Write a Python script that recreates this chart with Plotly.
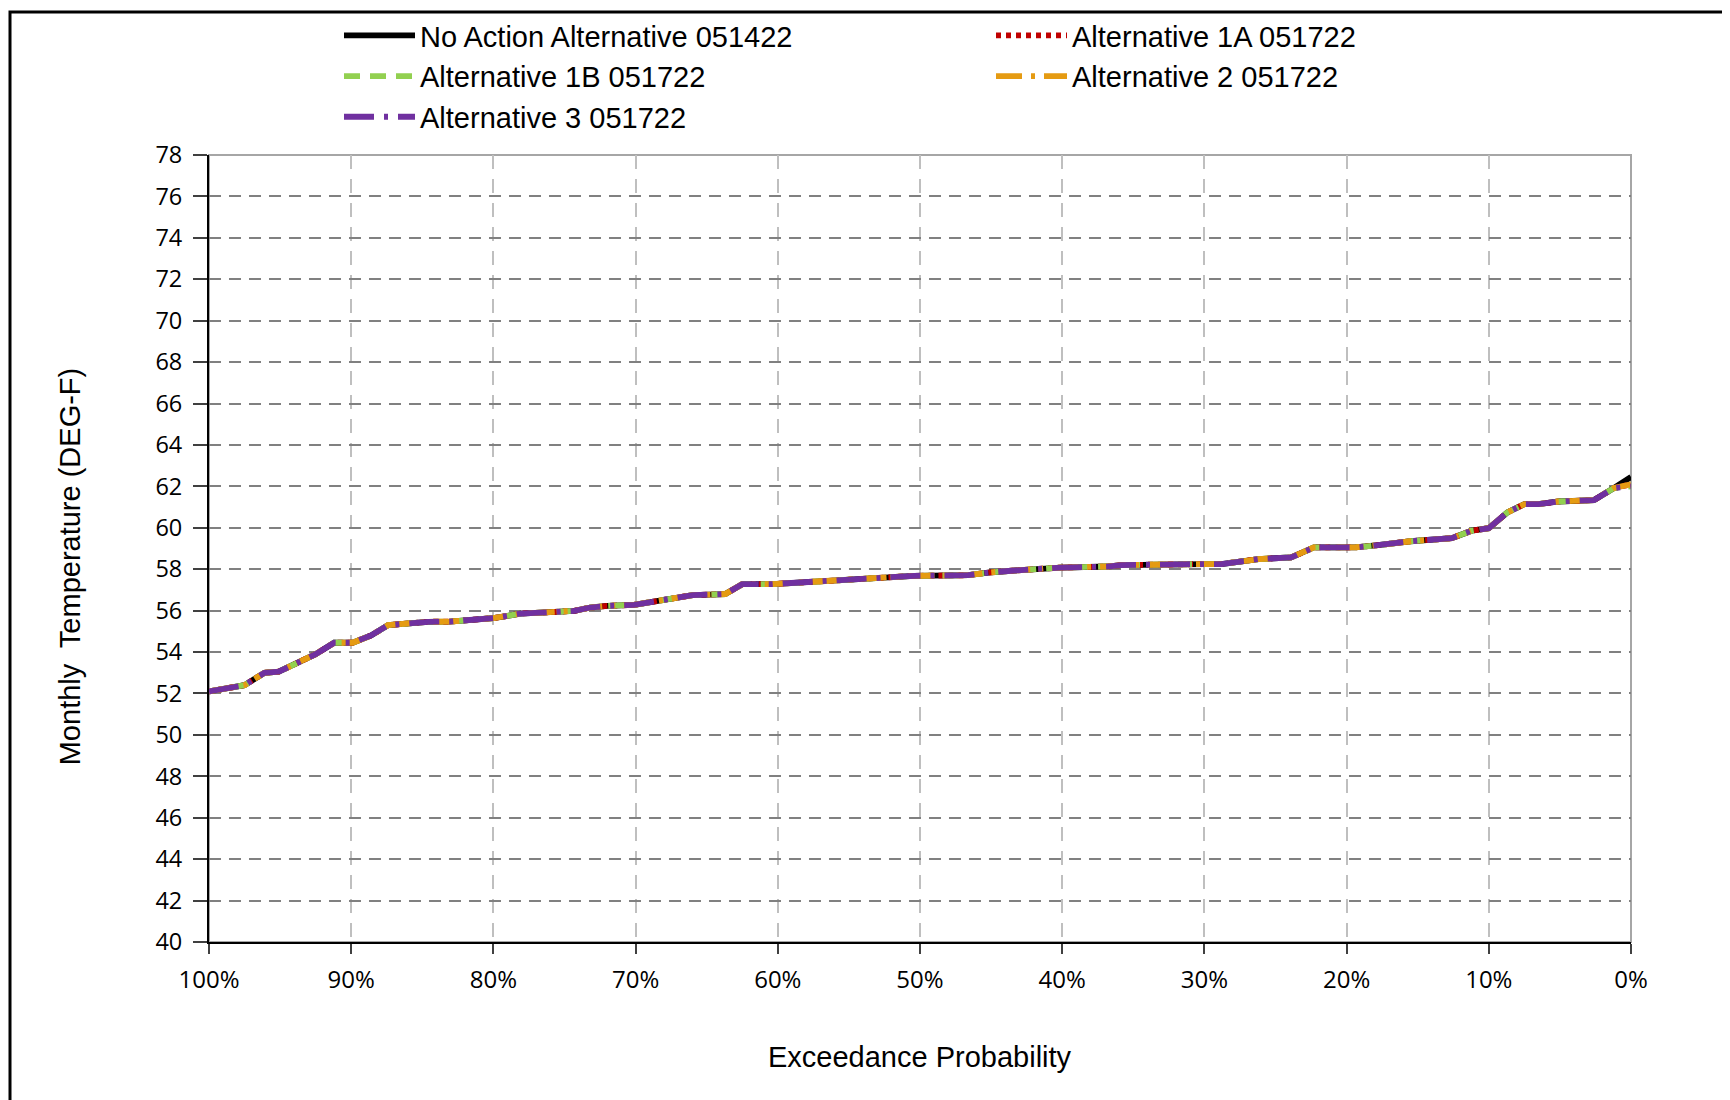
import plotly.graph_objects as go

# Exceedance probability (%) and monthly temperature (DEG-F)
exceedance = [100, 97.5, 96.1, 95.1, 92.5, 91.2, 89.9, 88.6, 87.4, 86.0, 84.6, 83.1,
              81.4, 80.0, 79.0, 78.1, 76.7, 74.3, 73.2, 72.0, 70.1, 68.5, 66.8, 66.0,
              63.7, 62.5, 60.4, 57.4, 55.1, 52.8, 50.4, 46.6, 45.2, 42.9, 40.1, 36.8,
              35.9, 30.0, 28.8, 26.2, 23.9, 22.3, 19.4, 17.8, 15.5, 12.6, 11.2, 10.0,
              8.7, 7.5, 6.5, 5.1, 2.6, 1.2, 0.0]

base = [52.10, 52.40, 53.00, 53.05, 53.90, 54.45, 54.45, 54.80, 55.30, 55.40, 55.46, 55.47,
        55.54, 55.64, 55.75, 55.86, 55.90, 55.99, 56.15, 56.23, 56.28, 56.44, 56.63, 56.75,
        56.80, 57.28, 57.28, 57.41, 57.52, 57.57, 57.68, 57.71, 57.84, 57.96, 58.08, 58.13,
        58.20, 58.25, 58.25, 58.49, 58.57, 59.05, 59.05, 59.16, 59.35, 59.50, 59.86, 59.98,
        60.74, 61.14, 61.14, 61.27, 61.34, 61.92]

no_action = base + [62.45]
alt_1a = base + [62.10]
alt_1b = base + [62.00]
alt_2 = base + [62.10]
alt_3 = base + [62.00]

series_names = ["No Action Alternative 051422", "Alternative 1A 051722",
                "Alternative 1B 051722", "Alternative 2 051722", "Alternative 3 051722"]
series_values = [no_action, alt_1a, alt_1b, alt_2, alt_3]
series_colors = ["#000000", "#C00000", "#92D050", "#E59B12", "#7030A0"]
series_dash = ["solid", "5px,5px", "16px,10px", "26px,9px,4px,9px", "30px,10px,4px,10px"]

x_ticks = [100, 90, 80, 70, 60, 50, 40, 30, 20, 10, 0]
x_ticktext = [f"{v}%" for v in x_ticks]
y_ticks = list(range(40, 79, 2))

fig = go.Figure()
for name, vals, col, dash in zip(series_names, series_values, series_colors, series_dash):
    fig.add_trace(go.Scatter(
        x=exceedance, y=vals, mode="lines", name=name,
        line=dict(color=col, width=5.8, dash=dash),
    ))

W, H = 1730, 1100
L, R, T, B = 201, 107, 147, 166
PW, PH = W - L - R, H - T - B

fig.update_layout(
    width=W, height=H,
    margin=dict(l=L, r=R, t=T, b=B, autoexpand=False),
    paper_bgcolor="white", plot_bgcolor="white",
    showlegend=True,
    legend=dict(
        orientation="h", x=(331 - L) / PW, xanchor="left", y=1 + (T - 2) / PH, yanchor="top",
        font=dict(family="Liberation Sans, Arial", size=29, color="black"),
        itemwidth=71, entrywidth=566, entrywidthmode="pixels",
        bgcolor="rgba(0,0,0,0)", traceorder="normal", tracegroupgap=0,
    ),
    xaxis=dict(
        range=[100, 0], tickmode="array", tickvals=x_ticks, ticktext=x_ticktext,
        showgrid=True, gridcolor="#BFBFBF", gridwidth=2, griddash="14px,10px",
        showline=True, linecolor="black", linewidth=2,
        ticks="outside", ticklen=10, tickwidth=1.5, tickcolor="#404040",
        tickfont=dict(family="Open Sans", size=24, color="black"),
        zeroline=False, automargin=False, ticklabelstandoff=5,
    ),
    yaxis=dict(
        range=[40, 78], tickmode="array", tickvals=y_ticks,
        showgrid=True, gridcolor="#808080", gridwidth=2, griddash="12px,8px",
        showline=True, linecolor="black", linewidth=2,
        ticks="outside", ticklen=14, tickwidth=1.5, tickcolor="#404040",
        tickfont=dict(family="Open Sans", size=23.5, color="black"),
        zeroline=False, automargin=False, ticklabelstandoff=6,
    ),
    annotations=[
        dict(text="Exceedance Probability", xref="paper", yref="paper",
             x=0.5, y=-0.1462, xanchor="center", yanchor="middle", showarrow=False,
             font=dict(family="Liberation Sans, Arial", size=29, color="black")),
        dict(text="Monthly  Temperature (DEG-F)", xref="paper", yref="paper",
             x=(62 - L) / PW, y=0.4774, xanchor="center", yanchor="middle", showarrow=False,
             textangle=-90,
             font=dict(family="Liberation Sans, Arial", size=29, color="black")),
    ],
    shapes=[
        dict(type="rect", xref="paper", yref="paper", x0=0, x1=1, y0=0, y1=1,
             line=dict(color="#A6A6A6", width=2), layer="below"),
        dict(type="rect", xref="paper", yref="paper",
             x0=(2 - L) / PW, x1=1.3,
             y0=-0.4, y1=1 + (T - 4) / PH,
             line=dict(color="black", width=3), layer="above"),
    ],
)

fig.write_html("out.html")
